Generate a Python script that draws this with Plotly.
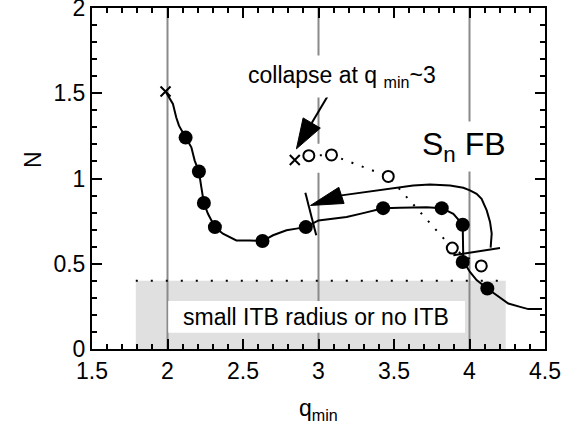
import math
import plotly.graph_objects as go

# Discharge trajectory in the (q_min, N) plane
curve_q = [1.987, 2.036, 2.058, 2.076, 2.120, 2.158, 2.180, 2.208, 2.224, 2.241,
           2.268, 2.314, 2.367, 2.456, 2.544, 2.629, 2.699, 2.788, 2.854, 2.916,
           3.000, 3.080, 3.186, 3.296, 3.428, 3.539, 3.627, 3.716, 3.816, 3.893,
           3.955, 3.960, 3.959, 4.003, 4.047, 4.118, 4.191, 4.257, 4.335, 4.390, 4.480]
curve_n = [1.510, 1.437, 1.358, 1.310, 1.240, 1.183, 1.105, 1.041, 0.949, 0.856,
           0.793, 0.715, 0.676, 0.637, 0.637, 0.633, 0.667, 0.696, 0.706, 0.715,
           0.754, 0.762, 0.774, 0.797, 0.826, 0.828, 0.830, 0.832, 0.826, 0.793,
           0.729, 0.550, 0.515, 0.452, 0.404, 0.355, 0.306, 0.267, 0.247, 0.234, 0.234]

# Sampled times along the trajectory (filled circles)
dot_q = [2.120, 2.208, 2.241, 2.314, 2.629, 2.916, 3.428, 3.816, 3.955, 3.955, 4.118]
dot_n = [1.240, 1.041, 0.856, 0.715, 0.633, 0.715, 0.826, 0.826, 0.729, 0.510, 0.355]

# Collapse case (open circles, dotted)
open_q = [2.936, 3.086, 3.462, 3.886, 4.078]
open_n = [1.134, 1.138, 1.012, 0.592, 0.487]

# Crosses: start of trajectory and collapse point
cross_q = [1.987, 2.843]
cross_n = [1.510, 1.109]

# Return branch with S_n feedback
ret_q = [4.140, 4.147, 4.136, 4.114, 4.080, 4.047, 4.003, 3.959, 3.871, 3.738,
         3.627, 3.539, 3.400, 3.252, 3.152]
ret_n = [0.595, 0.677, 0.745, 0.813, 0.881, 0.910, 0.930, 0.946, 0.959, 0.965,
         0.959, 0.948, 0.932, 0.910, 0.901]
ret_tip = (2.947, 0.842)

# Short markers crossing the trajectory
mark1_q = [2.913, 2.985]
mark1_n = [0.916, 0.667]
mark2_q = [3.893, 4.202]
mark2_n = [0.550, 0.592]

# Collapse arrow (tail, tip)
col_tail = (3.075, 1.505)
col_tip = (2.854, 1.174)

# ITB region
itb_q = [1.79, 4.24]
itb_level = 0.4
itb_box_q = [2.005, 3.97]
itb_box_n = [0.095, 0.282]

x_ticks = [1.5, 2, 2.5, 3, 3.5, 4, 4.5]
x_ticktext = ["1.5", "2", "2.5", "3", "3.5", "4", "4.5"]
y_ticks = [0, 0.5, 1, 1.5, 2]
y_ticktext = ["0", "0.5", "1", "1.5", "2"]
ref_lines_q = [2, 3, 4]

W, H = 563, 430
ML, MR, MT, MB = 92, 18, 8, 81
XR = (1.5, 4.5)
YR = (0, 2)
PX_X = (W - ML - MR) / (XR[1] - XR[0])
PX_Y = (H - MT - MB) / (YR[1] - YR[0])
FONT = "Liberation Sans, Arial, sans-serif"


def head(tip, base, half_w):
    """Filled triangle from tip to base (data units), half-width in pixels."""
    dx = (tip[0] - base[0]) * PX_X
    dy = (tip[1] - base[1]) * PX_Y
    L = math.hypot(dx, dy)
    nx, ny = -dy / L, dx / L
    p1 = (base[0] + nx * half_w / PX_X, base[1] + ny * half_w / PX_Y)
    p2 = (base[0] - nx * half_w / PX_X, base[1] - ny * half_w / PX_Y)
    return [tip[0], p1[0], p2[0], tip[0]], [tip[1], p1[1], p2[1], tip[1]]


def back_from(tip, tail, length_px):
    dx = (tail[0] - tip[0]) * PX_X
    dy = (tail[1] - tip[1]) * PX_Y
    L = math.hypot(dx, dy)
    return (tip[0] + dx / L * length_px / PX_X, tip[1] + dy / L * length_px / PX_Y)


fig = go.Figure()

# main trajectory
fig.add_trace(go.Scatter(x=curve_q, y=curve_n, mode="lines",
                         line=dict(color="black", width=2), hoverinfo="skip"))
# return branch
fig.add_trace(go.Scatter(x=ret_q, y=ret_n, mode="lines",
                         line=dict(color="black", width=2), hoverinfo="skip"))
hx, hy = head(ret_tip, (ret_q[-1], ret_n[-1]), 8.5)
fig.add_trace(go.Scatter(x=hx, y=hy, mode="lines", fill="toself", fillcolor="black",
                         line=dict(color="black", width=1), hoverinfo="skip"))
# crossing markers
for mq, mn in ((mark1_q, mark1_n), (mark2_q, mark2_n)):
    fig.add_trace(go.Scatter(x=mq, y=mn, mode="lines",
                             line=dict(color="black", width=2), hoverinfo="skip"))
# collapse arrow
col_base = back_from(col_tip, col_tail, 30)
fig.add_trace(go.Scatter(x=[col_tail[0], col_base[0]], y=[col_tail[1], col_base[1]],
                         mode="lines", line=dict(color="black", width=2), hoverinfo="skip"))
hx, hy = head(col_tip, col_base, 10)
fig.add_trace(go.Scatter(x=hx, y=hy, mode="lines", fill="toself", fillcolor="black",
                         line=dict(color="black", width=1), hoverinfo="skip"))
# ITB threshold
fig.add_trace(go.Scatter(x=itb_q, y=[itb_level, itb_level], mode="lines",
                         line=dict(color="black", width=2, dash="2px,13px"), hoverinfo="skip"))
# collapse branch
fig.add_trace(go.Scatter(x=open_q, y=open_n, mode="lines",
                         line=dict(color="black", width=2, dash="2px,9px"), hoverinfo="skip"))
fig.add_trace(go.Scatter(x=open_q, y=open_n, mode="markers",
                         marker=dict(symbol="circle", size=11, color="white",
                                     line=dict(color="black", width=2)), hoverinfo="skip"))
fig.add_trace(go.Scatter(x=dot_q, y=dot_n, mode="markers",
                         marker=dict(symbol="circle", size=14, color="black",
                                     line=dict(width=0)), hoverinfo="skip"))
fig.add_trace(go.Scatter(x=cross_q, y=cross_n, mode="markers",
                         marker=dict(symbol="x-thin", size=10, color="black",
                                     line=dict(color="black", width=2)), hoverinfo="skip"))
# empty trace that carries the top/right tick axes
fig.add_trace(go.Scatter(x=[], y=[], xaxis="x2", yaxis="y2", hoverinfo="skip"))

shapes = [
    dict(type="rect", xref="x", yref="y", x0=itb_q[0], x1=itb_q[1], y0=0, y1=itb_level,
         fillcolor="#e0e0e0", line=dict(width=0), layer="below"),
]
for q in ref_lines_q:
    shapes.append(dict(type="line", xref="x", yref="y", x0=q, x1=q, y0=YR[0], y1=YR[1],
                       line=dict(color="#8a8a8a", width=2), layer="below"))
shapes.append(dict(type="rect", xref="x", yref="y", x0=itb_box_q[0], x1=itb_box_q[1],
                   y0=itb_box_n[0], y1=itb_box_n[1], fillcolor="white",
                   line=dict(width=0), layer="below"))
# clear space round the collapse point
shapes.append(dict(type="rect", xref="x", yref="y",
                   x0=cross_q[1] - 0.05, x1=open_q[0] + 0.09,
                   y0=open_n[0] - 0.10, y1=open_n[0] + 0.07,
                   fillcolor="white", line=dict(width=0), layer="below"))

annotations = [
    dict(x=2.985, y=0.19, xref="x", yref="y", text="small ITB radius or no ITB",
         showarrow=False, font=dict(family=FONT, size=23, color="black")),
    dict(x=2.49, y=1.60, xref="x", yref="y", xanchor="left",
         text="collapse at q <sub>min</sub>~3", showarrow=False, bgcolor="white", borderpad=6,
         font=dict(family=FONT, size=23, color="black")),
    dict(x=3.965, y=1.19, xref="x", yref="y", text="S<sub>n</sub> FB",
         showarrow=False, bgcolor="white", borderpad=4,
         font=dict(family=FONT, size=32, color="black")),
    dict(x=0.5, y=-0.178, xref="paper", yref="paper", text="q<sub>min</sub>",
         showarrow=False, yanchor="middle", font=dict(family=FONT, size=23, color="black")),
    dict(x=-0.163, y=0.555, xref="paper", yref="paper", text="N", textangle=-90,
         showarrow=False, font=dict(family=FONT, size=23, color="black")),
]

tick_common = dict(showgrid=False, zeroline=False, ticks="inside", ticklen=10, tickwidth=2,
                   tickcolor="black", automargin=False)
minor_common = dict(ticks="inside", ticklen=5, tickwidth=2, tickcolor="black", showgrid=False)

fig.update_layout(
    template="none",
    width=W, height=H,
    margin=dict(l=ML, r=MR, t=MT, b=MB),
    paper_bgcolor="white", plot_bgcolor="white",
    showlegend=False,
    shapes=shapes,
    annotations=annotations,
    xaxis=dict(range=list(XR), tickvals=x_ticks, ticktext=x_ticktext,
               showline=True, linecolor="black", linewidth=2, mirror=True,
               ticklabeloverflow="allow",
               tickfont=dict(family=FONT, size=23, color="black"),
               minor=dict(dtick=0.1, tick0=1.5, **minor_common), **tick_common),
    yaxis=dict(range=list(YR), tickvals=y_ticks, ticktext=y_ticktext,
               showline=True, linecolor="black", linewidth=2, mirror=True,
               ticklabeloverflow="allow",
               tickfont=dict(family=FONT, size=23, color="black"),
               minor=dict(dtick=0.1, tick0=0, **minor_common), **tick_common),
    xaxis2=dict(range=list(XR), overlaying="x", side="top", anchor="y",
                tickvals=x_ticks, showticklabels=False, showline=False,
                minor=dict(dtick=0.1, tick0=1.5, **minor_common), **tick_common),
    yaxis2=dict(range=list(YR), overlaying="y", side="right", anchor="x",
                tickvals=y_ticks, showticklabels=False, showline=False,
                minor=dict(dtick=0.1, tick0=0, **minor_common), **tick_common),
)

fig.write_html("out.html")
